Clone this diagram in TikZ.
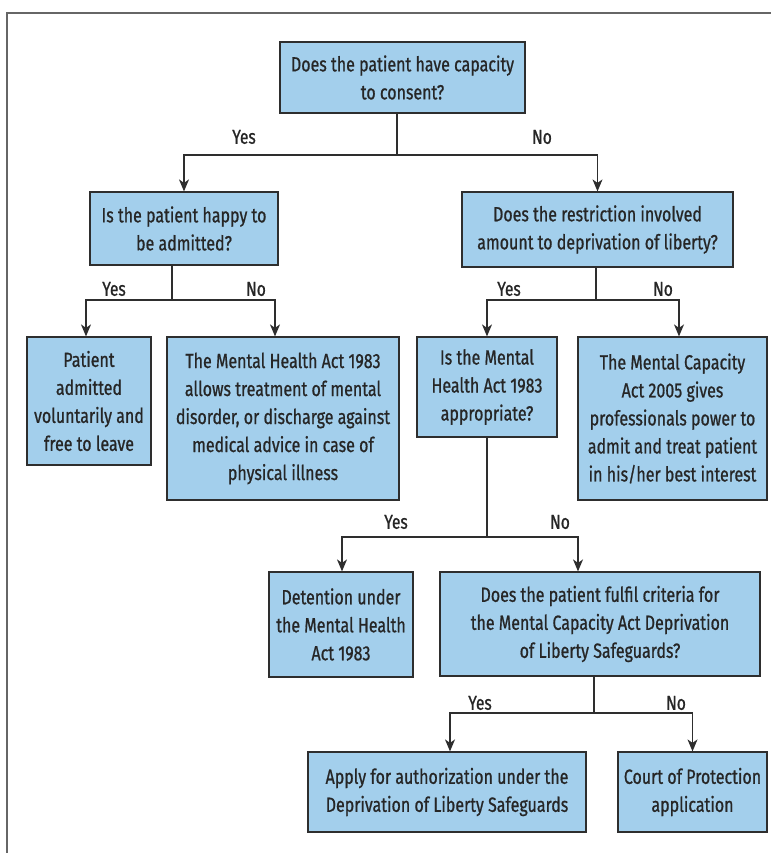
\documentclass[tikz,border=0pt]{standalone}
\usepackage{fontspec}
\setmainfont[FakeStretch=0.78, FakeBold=0.8]{Fira Sans}
\usetikzlibrary{arrows.meta}

\definecolor{boxblue}{HTML}{A3CFEC}
\definecolor{linegray}{HTML}{2E2E2E}

\tikzset{
  box/.style={draw=linegray, fill=boxblue, line width=1.2pt, align=center,
    inner sep=0pt, text=black!85, font=\fontsize{20.5}{28}\selectfont},
  conn/.style={draw=linegray, line width=1.2pt},
  arr/.style={conn, -{Stealth[length=12pt, width=10pt, inset=3.5pt]}},
  lab/.style={font=\fontsize{20}{24}\selectfont, text=black!85}
}

\begin{document}
\begin{tikzpicture}[x=1pt, y=-1pt]
  \useasboundingbox (0,0) rectangle (771,853);
  \draw[color=gray!80!black, line width=1.5pt] (7,853) -- (7,13) -- (771,13);

  % questions and outcomes
  \node[box, minimum width=245pt, minimum height=71pt] (cap) at (402.5,77.5) {Does the patient have capacity\\to consent?};
  \node[box, minimum width=188pt, minimum height=73pt] (happy) at (184,228.5) {Is the patient happy to\\be admitted?};
  \node[box, minimum width=271pt, minimum height=75pt] (restr) at (597.5,229.5) {Does the restriction involved\\amount to deprivation of liberty?};
  \node[box, minimum width=124pt, minimum height=128pt] (vol) at (89,401) {Patient\\admitted\\voluntarily and\\free to leave};
  \node[box, minimum width=232pt, minimum height=163pt] (treat) at (283,418.5) {The Mental Health Act 1983\\allows treatment of mental\\disorder, or discharge against\\medical advice in case of\\physical illness};
  \node[box, minimum width=140pt, minimum height=100pt] (mha) at (487,387) {Is the Mental\\Health Act 1983\\appropriate?};
  \node[box, minimum width=189pt, minimum height=163pt] (mca) at (672.5,418.5) {The Mental Capacity\\Act 2005 gives\\professionals power to\\admit and treat patient\\in his/her best interest};
  \node[box, minimum width=144pt, minimum height=105pt] (det) at (341,624.5) {Detention under\\the Mental Health\\Act 1983};
  \node[box, minimum width=320pt, minimum height=104pt] (dols) at (600,624) {Does the patient fulfil criteria for\\the Mental Capacity Act Deprivation\\of Liberty Safeguards?};
  \node[box, minimum width=278pt, minimum height=80pt] (apply) at (447,792) {Apply for authorization under the\\Deprivation of Liberty Safeguards};
  \node[box, minimum width=149pt, minimum height=80pt] (court) at (692.5,792) {Court of Protection\\application};

  % split points
  \coordinate (s1) at (397,155);
  \coordinate (s2) at (172,300);
  \coordinate (s3) at (596,300);
  \coordinate (s4) at (487,537);
  \coordinate (s5) at (594,713);

  \draw[conn] (cap.south -| s1) -- (s1);
  \draw[arr] (s1) -| (happy.north);
  \draw[arr] (s1) -| (restr.north);
  \draw[conn] (happy.south -| s2) -- (s2);
  \draw[arr] (s2) -| (vol.north -| 86,0);
  \draw[arr] (s2) -| (treat.north -| 275,0);
  \draw[conn] (restr.south -| s3) -- (s3);
  \draw[arr] (s3) -| (mha.north);
  \draw[arr] (s3) -| (mca.north -| 679,0);
  \draw[conn] (mha.south) -- (s4);
  \draw[arr] (s4) -| (det.north -| 342,0);
  \draw[arr] (s4) -| (dols.north -| 578,0);
  \draw[conn] (dols.south -| s5) -- (s5);
  \draw[arr] (s5) -| (apply.north -| 450,0);
  \draw[arr] (s5) -| (court.north);

  % branch labels
  \node[lab] at (244,137) {Yes};
  \node[lab] at (542,137) {No};
  \node[lab] at (114,289) {Yes};
  \node[lab] at (256,289) {No};
  \node[lab] at (509,289) {Yes};
  \node[lab] at (663,289) {No};
  \node[lab] at (396,522) {Yes};
  \node[lab] at (560,522) {No};
  \node[lab] at (480,703) {Yes};
  \node[lab] at (676,703) {No};
\end{tikzpicture}
\end{document}
